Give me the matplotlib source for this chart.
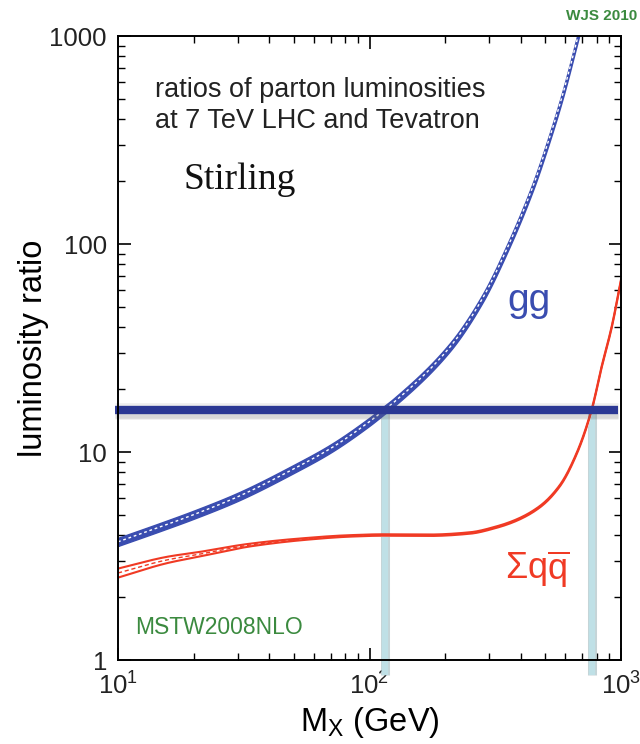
import numpy as np
import matplotlib
matplotlib.use("Agg")
import matplotlib.pyplot as plt
from matplotlib.ticker import LogLocator, NullFormatter, FixedLocator

plt.rcParams['font.family'] = ['Liberation Sans', 'DejaVu Sans']
plt.rcParams['mathtext.fontset'] = 'custom'
plt.rcParams['mathtext.rm'] = 'Liberation Sans'
plt.rcParams['mathtext.it'] = 'Liberation Sans'
plt.rcParams['mathtext.sf'] = 'Liberation Sans'

# gg luminosity ratio (LHC 7 TeV / Tevatron) vs invariant mass
mass_gg = [10, 15, 20, 30, 50, 70, 100, 115, 124, 209, 282, 352, 447, 522, 588, 675, 710]
ratio_gg = [3.7, 4.4, 5.0, 6.1, 8.3, 10.4, 14.0, 16.0, 17.2, 32, 55, 95, 190, 330, 530, 1000, 1270]
band_gg = 0.045

# sum over q-qbar luminosity ratio
mass_qq = [10, 15.7, 21.2, 33.5, 53, 83.5, 113, 174, 251, 321, 385, 476, 572, 667, 765, 838, 919, 1000]
ratio_qq = [2.62, 3.03, 3.23, 3.57, 3.80, 3.95, 3.99, 3.98, 4.08, 4.36, 4.71, 5.46, 6.9, 9.86, 16.0, 25.7, 40, 67]
band_qq = [0.05, 0.035, 0.025, 0.015, 0.01, 0.008, 0.008, 0.008, 0.008, 0.008, 0.008, 0.008, 0.008, 0.008, 0.008, 0.008, 0.008, 0.008]

# reference ratio level and the masses where each channel reaches it
ratio_level = 16
cross_gg = 115
cross_qq = 767

blue = '#3a4db0'
dark_blue = '#2b3894'
red = '#f03a24'
green = '#3b8a3f'
pale = '#bfe0e6'


def pchip(x, y, xn):
    """Monotone cubic Hermite interpolation."""
    x = np.asarray(x, float)
    y = np.asarray(y, float)
    h = np.diff(x)
    d = np.diff(y) / h
    m = np.zeros_like(y)
    for k in range(1, len(x) - 1):
        if d[k - 1] * d[k] > 0:
            w1 = 2 * h[k] + h[k - 1]
            w2 = h[k] + 2 * h[k - 1]
            m[k] = (w1 + w2) / (w1 / d[k - 1] + w2 / d[k])
    m[0] = d[0]
    m[-1] = d[-1]
    idx = np.clip(np.searchsorted(x, xn) - 1, 0, len(x) - 2)
    t = (xn - x[idx]) / h[idx]
    h00 = 2 * t**3 - 3 * t**2 + 1
    h10 = t**3 - 2 * t**2 + t
    h01 = -2 * t**3 + 3 * t**2
    h11 = t**3 - t**2
    return h00 * y[idx] + h10 * h[idx] * m[idx] + h01 * y[idx + 1] + h11 * h[idx] * m[idx + 1]


def smooth(x, y, n=600):
    lx, ly = np.log10(x), np.log10(y)
    grid = np.linspace(lx[0], lx[-1], n)
    return 10 ** grid, 10 ** pchip(lx, ly, grid)


fig = plt.figure(figsize=(6.4, 7.44), dpi=100)
ax = fig.add_axes([118 / 640, 84 / 744, 503 / 640, 624 / 744])
ax.set_xscale('log')
ax.set_yscale('log')
ax.set_xlim(10, 1000)
ax.set_ylim(1, 1000)

# vertical markers down from the reference level
for xm in (cross_gg, cross_qq):
    ax.plot([xm, xm], [ratio_level, 0.85], color='#9fb8bd', lw=6.5, alpha=0.6,
            solid_capstyle='butt', clip_on=False, zorder=2)
    ax.plot([xm, xm], [ratio_level, 0.85], color=pale, lw=4.5,
            solid_capstyle='butt', clip_on=False, zorder=2)

# gg band
xg, yg = smooth(mass_gg, ratio_gg)
ax.fill_between(xg, yg * (1 - band_gg), yg * (1 + band_gg), color=blue, lw=1.0,
                edgecolor=blue, zorder=4)
ax.plot(xg, yg, color='white', lw=1.0, ls=(0, (2, 2)), zorder=5)

# q-qbar band
xq, yq = smooth(mass_qq, ratio_qq)
bq = np.interp(np.log10(xq), np.log10(mass_qq), band_qq)
ax.fill_between(xq, yq * (1 - bq), yq * (1 + bq), color='white', zorder=4)
ax.plot(xq, yq * (1 - bq), color=red, lw=1.5, zorder=5)
ax.plot(xq, yq * (1 + bq), color=red, lw=1.5, zorder=5)
ax.plot(xq, yq, color=red, lw=1.0, ls=(0, (3, 2)), zorder=5)

# reference level line with a soft shadow
for off, w, a in ((0.985, 12, 0.10), (0.975, 9, 0.15)):
    ax.plot([9.75, 970], [ratio_level * off] * 2, color='#606060', lw=w, alpha=a,
            solid_capstyle='butt', clip_on=False, zorder=6)
ax.plot([9.75, 970], [ratio_level, ratio_level], color=dark_blue, lw=6,
        solid_capstyle='butt', clip_on=False, zorder=7)

# axes styling
for s in ax.spines.values():
    s.set_linewidth(1.4)
    s.set_zorder(8)
ax.tick_params(which='both', direction='in', top=True, right=True, colors='black',
               labelsize=18.5)
ax.tick_params(which='major', length=9, width=1.2)
ax.tick_params(which='minor', length=5, width=1.0)
ax.xaxis.set_major_locator(FixedLocator([10, 100, 1000]))
ax.xaxis.set_minor_locator(LogLocator(base=10, subs=np.arange(2, 10)))
ax.xaxis.set_minor_formatter(NullFormatter())
ax.set_xticklabels([r'$10^{1}$', r'$10^{2}$', r'$10^{3}$'])
ax.yaxis.set_major_locator(FixedLocator([1, 10, 100, 1000]))
ax.yaxis.set_minor_locator(LogLocator(base=10, subs=np.arange(2, 10)))
ax.yaxis.set_minor_formatter(NullFormatter())
ax.set_yticklabels(['1', '10', '100', '1000'])
ax.tick_params(axis='x', pad=9)
ax.tick_params(axis='y', pad=8)
for lab in ax.get_xticklabels() + ax.get_yticklabels():
    lab.set_color('#222222')

ax.set_ylabel('luminosity ratio', fontsize=23.5, labelpad=0)
ax.set_xlabel(r'M$_{\mathregular{X}}$ (GeV)', fontsize=23.5, labelpad=4)

# annotations
ax.text(0.074, 0.935, 'ratios of parton luminosities\nat 7 TeV LHC and Tevatron',
        transform=ax.transAxes, fontsize=19.5, color='#222222', va='top',
        linespacing=1.28)
ax.text(0.13, 0.77, 'Stirling', transform=ax.transAxes, fontsize=27,
        family='Liberation Serif', color='#111111', va='center')
ax.text(0.775, 0.575, 'gg', transform=ax.transAxes, fontsize=28, color=blue,
        va='center')
ax.text(0.77, 0.146, r'$\mathregular{\Sigma q}\overline{\mathregular{q}}$',
        transform=ax.transAxes, fontsize=26, color=red, va='center')
ax.text(0.034, 0.052, 'MSTW2008NLO', transform=ax.transAxes, fontsize=16.5,
        color=green, va='center')
fig.text(0.995, 0.978, 'WJS 2010', fontsize=11, color=green, ha='right',
         va='center', fontweight='bold')

fig.savefig('out.png', dpi=100)
